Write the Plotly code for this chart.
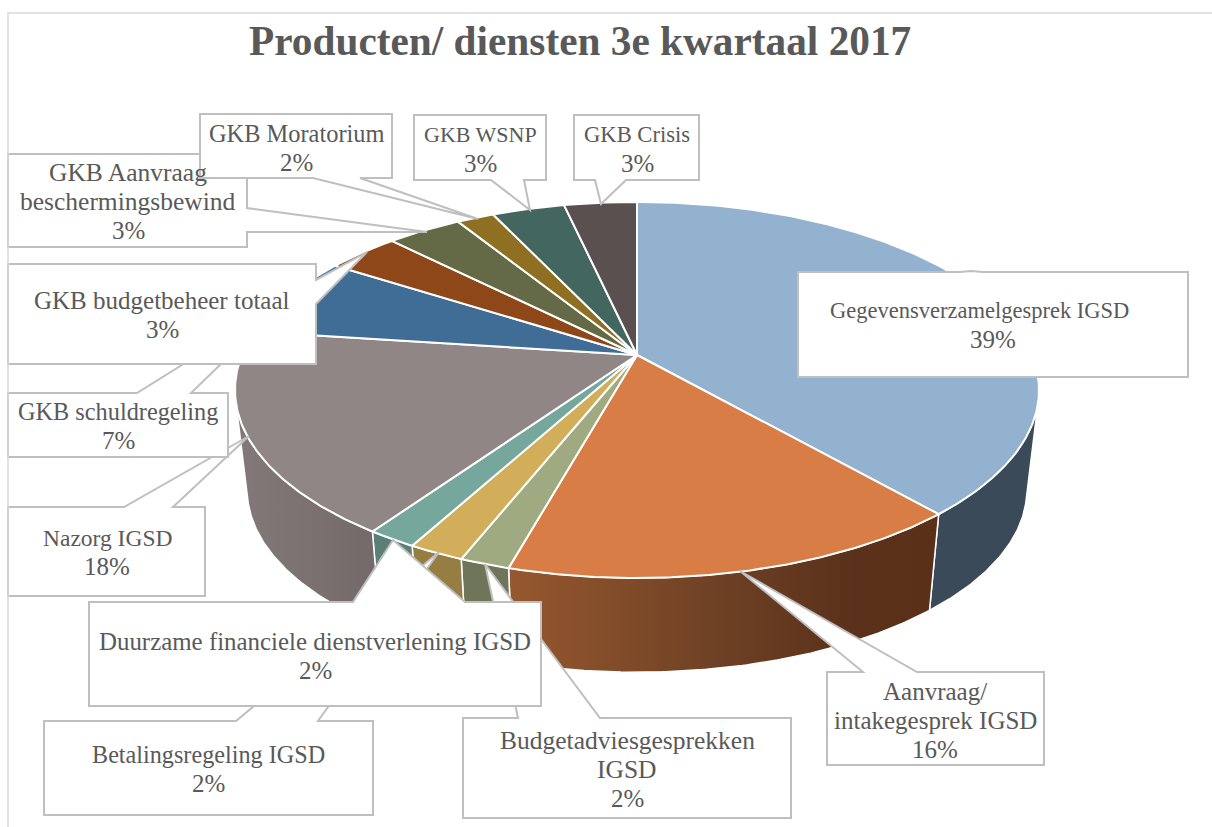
import math
import plotly.graph_objects as go

# ---- data (clockwise from 12 o'clock) ----
categories = ["Gegevensverzamelgesprek IGSD", "Aanvraag/<br>intakegesprek IGSD",
              "Budgetadviesgesprekken<br>IGSD", "Betalingsregeling IGSD",
              "Duurzame financiele dienstverlening IGSD", "Nazorg IGSD",
              "GKB schuldregeling", "GKB budgetbeheer totaal",
              "GKB Aanvraag<br>beschermingsbewind", "GKB Moratorium", "GKB WSNP", "GKB Crisis"]
shares = [38.6, 15.7, 1.7, 1.9, 1.7, 17.5, 7.0, 3.5, 3.6, 1.8, 3.5, 3.5]
pct_labels = ["39%", "16%", "2%", "2%", "2%", "18%", "7%", "3%", "3%", "2%", "3%", "3%"]
top_colors = ["#92b2cf", "#d97d47", "#a0aa80", "#d3ae5a", "#76a79c", "#918686",
              "#3f6d96", "#8e4719", "#646a46", "#8f7023", "#43665e", "#5a5050"]
wall_colors = ["#3b4a58", "#5a3019", "#6e7558", "#967d42", "#5b7f77", "#7a6f6f",
               "#2c4a66", "#5f2f10", "#43472f", "#604b18", "#2d443f", "#3c3535"]
title = "Producten/ diensten 3e kwartaal 2017"

# ---- styles / layout ----
FONT = "Liberation Serif"
TXT = "#595959"
BORDER = "#bfbfbf"
CX = 637
TOP = dict(cy=355, R=395, K=181.5)
BOTTOM = dict(cy=456, R=383, K=176)
P = 0.186
WALL_FROM, WALL_TO = 105, 255
LINE_STEP = 29
name_sizes = [22.5, 25, 25.5, 24.2, 24.9, 23.5, 24.3, 25, 25.5, 24.4, 22, 22.6]
PCT_SIZE = 25
pct_shift = {0: 14}


def project(deg, ring):
    t = math.radians(deg)
    w = 1 + P * math.cos(t)
    return CX + ring["R"] * math.sin(t) / w, ring["cy"] - ring["K"] * math.cos(t) / w


def arc(a, b, ring):
    n = max(2, int(abs(b - a) * 2))
    pts = [project(a + (b - a) * i / n, ring) for i in range(n + 1)]
    return [p[0] for p in pts], [p[1] for p in pts]


fig = go.Figure()
total = sum(shares)
bounds = [0]
for s in shares:
    bounds.append(bounds[-1] + s / total * 360)

wall_gradients = {
    1: [[0, "#96582f"], [0.5, "#6d4024"], [0.8, "#5a311a"], [1, "#5a3019"]],
    5: [[0, "#847979"], [1, "#746969"]],
}
for i in range(len(shares)):
    a, b = max(bounds[i], WALL_FROM), min(bounds[i + 1], WALL_TO)
    if a >= b:
        continue
    xt, yt = arc(a, b, TOP)
    xb, yb = arc(b, a, BOTTOM)
    kw = dict(fillcolor=wall_colors[i])
    if i in wall_gradients:
        kw = dict(fillgradient=dict(type="horizontal", colorscale=wall_gradients[i]))
    fig.add_trace(go.Scatter(x=xt + xb + xt[:1], y=yt + yb + yt[:1], mode="lines", fill="toself",
                             line=dict(color="white", width=1.5), hoverinfo="skip", **kw))

for i in range(len(shares)):
    xa, ya = arc(bounds[i], bounds[i + 1], TOP)
    fig.add_trace(go.Scatter(x=[CX] + xa + [CX], y=[TOP["cy"]] + ya + [TOP["cy"]], mode="lines",
                             fill="toself", fillcolor=top_colors[i],
                             line=dict(color="white", width=2),
                             name=categories[i], hoverinfo="name"))

# callouts: draw order, outline, and text centre
callouts = [
    (0, [(798, 272), (960, 272), (971, 271), (983, 272), (1188, 272), (1188, 377), (798, 377)], (979, 325)),
    (1, [(827, 672), (863, 672), (740, 571), (917, 672), (1044, 672), (1044, 765), (827, 765)], (935, 720)),
    (2, [(463, 718), (518, 718), (485, 564), (600, 718), (791, 718), (791, 818), (463, 818)], (627, 769)),
    (3, [(44, 721), (236, 721), (439, 552), (318, 721), (373, 721), (373, 815), (44, 815)], (208, 769)),
    (5, [(8, 507), (124, 507), (249, 436), (173, 507), (205, 507), (205, 596), (8, 596)], (107, 552)),
    (6, [(8, 393), (137, 393), (289, 298), (191, 393), (228, 393), (228, 457), (8, 457)], (118, 426)),
    (7, [(8, 264), (316, 264), (316, 280), (367, 252), (316, 304), (316, 364), (8, 364)], (162, 315)),
    (8, [(8, 154), (247, 154), (247, 208), (427, 232), (247, 232), (247, 247), (8, 247)], (128, 201)),
    (9, [(200, 114), (392, 114), (392, 178), (360, 178), (478, 219), (313, 178), (200, 178)], (296, 148)),
    (10, [(414, 115), (546, 115), (546, 180), (524, 180), (530, 210), (491, 180), (414, 180)], (480, 149)),
    (11, [(574, 115), (699, 115), (699, 180), (626, 180), (601, 204), (595, 180), (574, 180)], (637, 149)),
    (4, [(89, 602), (353, 602), (393, 540), (465, 602), (541, 602), (541, 706), (89, 706)], (315, 656)),
]

shapes = []
annotations = []
for idx, outline, centre in callouts:
    d = "M " + " L ".join(f"{x},{y}" for x, y in outline) + " Z"
    shapes.append(dict(type="path", path=d, xref="x", yref="y", fillcolor="white",
                       line=dict(color=BORDER, width=2), layer="above"))
    lines = categories[idx].split("<br>") + [pct_labels[idx]]
    top_y = centre[1] - (len(lines) - 1) * LINE_STEP / 2
    for k, text in enumerate(lines):
        is_pct = k == len(lines) - 1
        size = PCT_SIZE if is_pct else name_sizes[idx]
        dx = pct_shift.get(idx, 0) if is_pct else 0
        annotations.append(dict(x=centre[0] + dx, y=top_y + k * LINE_STEP, xref="x", yref="y",
                                showarrow=False, text=text, align="center",
                                font=dict(family=FONT, size=size, color=TXT)))

# chart frame
shapes.append(dict(type="path", path="M 8,827 L 8,13 L 1212,13", xref="x", yref="y",
                   line=dict(color="#d9d9d9", width=1.5), layer="above"))
annotations.append(dict(x=580, y=41, xref="x", yref="y", showarrow=False, text=f"<b>{title}</b>",
                        font=dict(family=FONT, size=41.3, color=TXT)))

fig.update_layout(width=1212, height=827, margin=dict(l=0, r=0, t=0, b=0),
                  paper_bgcolor="white", plot_bgcolor="white", showlegend=False,
                  xaxis=dict(range=[0, 1212], visible=False, fixedrange=True),
                  yaxis=dict(range=[827, 0], visible=False, fixedrange=True),
                  shapes=shapes, annotations=annotations)
fig.write_html("out.html", config=dict(displayModeBar=False),
               post_script="document.body.style.margin='0';")
